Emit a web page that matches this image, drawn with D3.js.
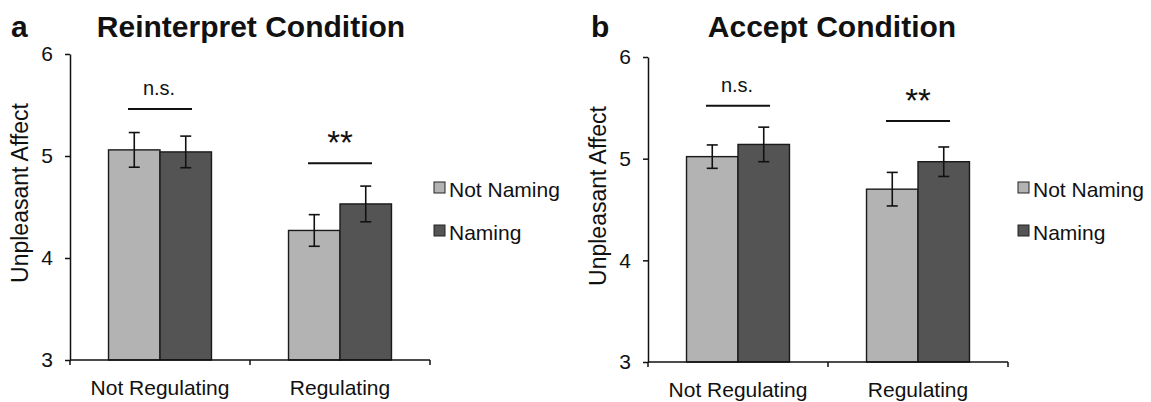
<!doctype html>
<html>
<head>
<meta charset="utf-8">
<title>Unpleasant Affect by condition</title>
<script src="https://d3js.org/d3.v7.min.js"></script>
<style type="text/css">
	body { margin: 0; background: #fff; }
	text { font-family: "Liberation Sans", Arial, sans-serif; fill: #111; }
	.title { font-size: 30px; font-weight: bold; }
	.panel { font-size: 30px; font-weight: bold; }
	.axis text { font-size: 21px; fill: #111; }
	.axis path, .axis line { stroke: #111; stroke-width: 1.5px; }
	.xlab { font-size: 21px; }
	.ylab { font-size: 23px; }
	.legend { font-size: 21px; }
	.sig { font-size: 20px; }
</style>
</head>
<body>
<script>
	var w = 1151;
	var h = 402;

	var groups = ["Not Regulating", "Regulating"];
	var series = ["Not Naming", "Naming"];
	var yTicks = [3, 4, 5, 6];
	var colors = ["#b3b3b3", "#545454"];

	// Reinterpret condition (panel a)
	var reinterpretNotNaming = [5.06, 4.27];
	var reinterpretNaming = [5.04, 4.53];
	var reinterpretNotNamingErr = [0.17, 0.155];
	var reinterpretNamingErr = [0.155, 0.175];
	var reinterpretSig = ["n.s.", "**"];
	var reinterpretSigLevel = [5.46, 4.93];

	// Accept condition (panel b)
	var acceptNotNaming = [5.02, 4.70];
	var acceptNaming = [5.14, 4.97];
	var acceptNotNamingErr = [0.115, 0.165];
	var acceptNamingErr = [0.17, 0.145];
	var acceptSig = ["n.s.", "**"];
	var acceptSigLevel = [5.52, 5.37];

	var svg = d3.select("body")
				.append("svg")
				.attr("width", w)
				.attr("height", h);

	function drawPanel(p) {
		var g = svg.append("g");

		var x = d3.scaleBand()
				  .domain(groups)
				  .range([p.x0, p.x1])
				  .paddingInner(0.428)
				  .paddingOuter(0.214);
		var xs = d3.scaleBand()
				   .domain(series)
				   .range([0, x.bandwidth()]);
		var y = d3.scaleLinear()
				  .domain([3, 6])
				  .range([p.yBottom, p.yTop]);

		var rows = [];
		groups.forEach(function(grp, i) {
			rows.push({group: grp, key: series[0], v: p.notNaming[i], e: p.notNamingErr[i]});
			rows.push({group: grp, key: series[1], v: p.naming[i], e: p.namingErr[i]});
		});

		// bars
		g.selectAll("rect.bar")
		 .data(rows)
		 .enter()
		 .append("rect")
		 .attr("class", "bar")
		 .attr("x", function(d) { return x(d.group) + xs(d.key); })
		 .attr("y", function(d) { return y(d.v); })
		 .attr("width", xs.bandwidth())
		 .attr("height", function(d) { return y(3) - y(d.v); })
		 .attr("fill", function(d) { return colors[series.indexOf(d.key)]; })
		 .attr("stroke", "#1a1a1a")
		 .attr("stroke-width", 1.4);

		// error bars
		var cap = 5.5;
		var eb = g.selectAll("g.err")
				  .data(rows)
				  .enter()
				  .append("g")
				  .attr("class", "err")
				  .attr("stroke", "#111")
				  .attr("stroke-width", 1.6);
		eb.append("line")
		  .attr("x1", function(d) { return x(d.group) + xs(d.key) + xs.bandwidth() / 2; })
		  .attr("x2", function(d) { return x(d.group) + xs(d.key) + xs.bandwidth() / 2; })
		  .attr("y1", function(d) { return y(d.v + d.e); })
		  .attr("y2", function(d) { return y(d.v - d.e); });
		[1, -1].forEach(function(s) {
			eb.append("line")
			  .attr("x1", function(d) { return x(d.group) + xs(d.key) + xs.bandwidth() / 2 - cap; })
			  .attr("x2", function(d) { return x(d.group) + xs(d.key) + xs.bandwidth() / 2 + cap; })
			  .attr("y1", function(d) { return y(d.v + s * d.e); })
			  .attr("y2", function(d) { return y(d.v + s * d.e); });
		});

		// significance markers
		groups.forEach(function(grp, i) {
			var cx = x(grp) + x.bandwidth() / 2;
			var ly = y(p.sigLevel[i]);
			g.append("line")
			 .attr("x1", cx - 32)
			 .attr("x2", cx + 32)
			 .attr("y1", ly)
			 .attr("y2", ly)
			 .attr("stroke", "#111")
			 .attr("stroke-width", 2);
			var star = p.sig[i] == "**";
			g.append("text")
			 .attr("class", "sig")
			 .attr("x", cx + (star ? 0 : -1))
			 .attr("y", star ? ly - 9 : ly - 14)
			 .attr("text-anchor", "middle")
			 .style("font-size", star ? "33px" : "20px")
			 .text(p.sig[i]);
		});

		// y axis
		var yAxis = d3.axisLeft(y)
					  .tickValues(yTicks)
					  .tickFormat(d3.format("d"))
					  .tickSize(5)
					  .tickSizeOuter(0)
					  .tickPadding(12);
		g.append("g")
		 .attr("class", "axis")
		 .attr("transform", "translate(" + p.x0 + ",0)")
		 .call(yAxis);

		// x axis: line with ticks at band edges
		var edges = [p.x0, (p.x0 + p.x1) / 2, p.x1];
		var xa = g.append("g").attr("class", "axis");
		xa.append("path")
		  .attr("d", "M" + p.x0 + "," + y(3) + "H" + p.x1)
		  .attr("fill", "none");
		xa.selectAll("line")
		  .data(edges)
		  .enter()
		  .append("line")
		  .attr("x1", function(d) { return d; })
		  .attr("x2", function(d) { return d; })
		  .attr("y1", y(3))
		  .attr("y2", y(3) + 5);
		g.selectAll("text.xlab")
		 .data(groups)
		 .enter()
		 .append("text")
		 .attr("class", "xlab")
		 .attr("x", function(d) { return x(d) + x.bandwidth() / 2; })
		 .attr("y", y(3) + 35)
		 .attr("text-anchor", "middle")
		 .text(function(d) { return d; });

		// y label
		g.append("text")
		 .attr("class", "ylab")
		 .attr("transform", "translate(" + (p.x0 - 42) + "," + (p.yTop + 139) + ") rotate(-90)")
		 .attr("text-anchor", "middle")
		 .text("Unpleasant Affect");

		// titles
		g.append("text")
		 .attr("class", "title")
		 .attr("x", p.titleX)
		 .attr("y", 37)
		 .attr("text-anchor", "middle")
		 .text(p.title);
		g.append("text")
		 .attr("class", "panel")
		 .attr("x", p.letterX)
		 .attr("y", 37)
		 .text(p.letter);

		// legend
		var lg = g.selectAll("g.leg")
				  .data(series)
				  .enter()
				  .append("g")
				  .attr("class", "leg")
				  .attr("transform", function(d, i) { return "translate(" + p.legendX + "," + (182 + i * 43) + ")"; });
		lg.append("rect")
		  .attr("width", 11)
		  .attr("height", 11)
		  .attr("fill", function(d, i) { return colors[i]; })
		  .attr("stroke", "#222")
		  .attr("stroke-width", 1);
		lg.append("text")
		  .attr("class", "legend")
		  .attr("x", 15)
		  .attr("y", 15)
		  .text(function(d) { return d; });
	}

	drawPanel({
		x0: 70, x1: 430, yBottom: 360, yTop: 54,
		notNaming: reinterpretNotNaming, naming: reinterpretNaming,
		notNamingErr: reinterpretNotNamingErr, namingErr: reinterpretNamingErr,
		sig: reinterpretSig, sigLevel: reinterpretSigLevel,
		title: "Reinterpret Condition", titleX: 251, letter: "a", letterX: 11,
		legendX: 434
	});

	drawPanel({
		x0: 648, x1: 1008, yBottom: 362, yTop: 57,
		notNaming: acceptNotNaming, naming: acceptNaming,
		notNamingErr: acceptNotNamingErr, namingErr: acceptNamingErr,
		sig: acceptSig, sigLevel: acceptSigLevel,
		title: "Accept Condition", titleX: 832, letter: "b", letterX: 591,
		legendX: 1018
	});
</script>
</body>
</html>
